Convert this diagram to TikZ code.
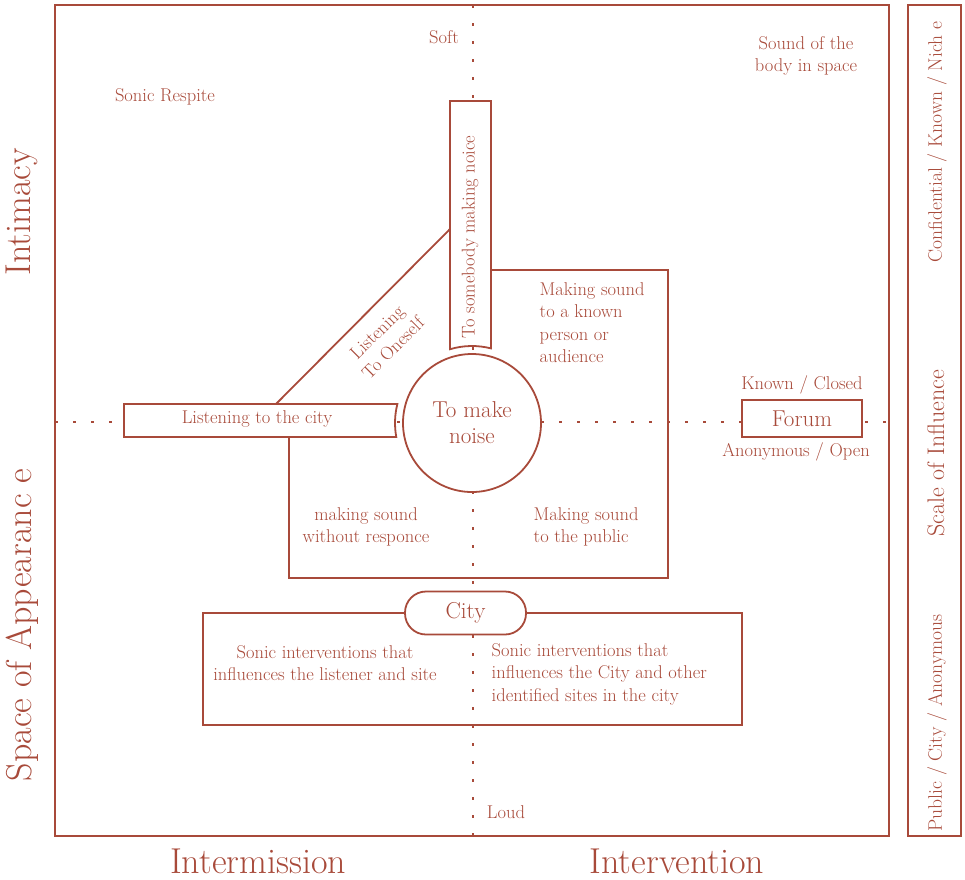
\documentclass[tikz,border=0pt]{standalone}
\usepackage{fontspec}
\usetikzlibrary{calc,positioning}
\definecolor{rust}{RGB}{168,74,58}

\begin{document}
\begin{tikzpicture}[
  x=1pt,y=1pt,
  every node/.style={inner sep=1.5pt,text=rust},
  frame/.style={draw=rust,line width=2.2pt},
  box/.style={draw=rust,line width=1.8pt,fill=white},
  edge/.style={draw=rust,line width=1.8pt},
  axis/.style={draw=rust,line width=1.8pt,dash pattern=on 3pt off 15pt},
  lab/.style={font=\fontsize{18.5}{22.4}\selectfont,align=center},
  big/.style={font=\fontsize{23}{26}\selectfont,align=center},
  ttl/.style={font=\fontsize{36}{36}\selectfont,inner sep=0pt},
  side/.style={font=\fontsize{19.5}{19.5}\selectfont,rotate=90},
]
  \useasboundingbox (0,0) rectangle (965,-879);
  % ============ frames ============
  \draw[frame] (55,-5) rectangle (889,-836);
  \draw[frame] (908,-5) rectangle (961,-836);
  % ============ axes ============
  \coordinate (soft) at (473,-5);
  \coordinate (loud) at (473,-836);
  \coordinate (west) at (55,-422);
  \coordinate (east) at (889,-422);
  \draw[axis] (soft) -- (loud);
  \draw[axis] (west) -- (east);
  % ============ making sound quadrants ============
  \draw[edge] (491,-270) -- (668,-270) -- (668,-578) -- (289,-578) -- (289,-437);
  \node[lab,align=left,anchor=north west] (known) at (538,-281) {Making sound\\to a known\\person or\\audience};
  \node[lab] (noresp) at (366,-527) {making sound\\without responce};
  \node[lab,align=left,anchor=west] (public) at (532,-527) {Making sound\\to the public};
  % ============ listening ============
  \draw[edge] (276,-404) -- (450,-229);
  \node[lab,rotate=45] (oneself) at (385,-340) {Listening\\To Oneself};
  % ============ centre ============
  \node[circle,box,minimum size=138pt,inner sep=0pt,big] (noise) at (472,-423) {To make\\noise};
  \draw[box] (450,-101) -- ($(noise.center)+(106.6:77)$) arc[start angle=106.6,end angle=75.7,radius=77] -- (491,-101) -- cycle;
  \node[lab,rotate=90] (somebody) at (470,-237) {To somebody making noice};
  \draw[box] (124,-404) -- ($(noise.center)+(165.7:77)$) arc[start angle=165.7,end angle=190.5,radius=77] -- (124,-437) -- cycle;
  \node[lab] (cityear) at (257,-419) {Listening to the city};
  % ============ city ============
  \node[box,rounded corners=21pt,minimum width=121pt,minimum height=43pt,big] (city) at (465.5,-613) {City};
  \draw[edge] (city.west) -- (203,-613) -- (203,-725) -- (742,-725) -- (742,-613) -- (city.east);
  \node[lab] (site) at (325,-663) {Sonic interventions that\\influences the listener and site};
  \node[lab,align=left,anchor=west] (others) at (490,-674) {Sonic interventions that\\influences the City and other\\identified sites in the city};
  % ============ forum ============
  \node[box,minimum width=120pt,minimum height=37pt,big] (forum) at (802,-418.5) {Forum};
  \node[lab,above=3pt of forum] (closed) {Known / Closed};
  \node[lab,below=3pt of forum,xshift=-6pt] (open) {Anonymous / Open};
  % ============ corner labels ============
  \node[lab] (softlab) at (444,-37) {Soft};
  \node[lab] (loudlab) at (506,-812) {Loud};
  \node[lab] (body) at (806,-56) {Sound of the\\body in space};
  \node[lab] (respite) at (165,-97) {Sonic Respite};
  % ============ axis titles ============
  \node[ttl,rotate=90] (intimacy) at (22,-212) {Intimacy};
  \node[ttl,rotate=90] (appear) at (22,-625) {Space of Appearanc e};
  \node[ttl] (intermission) at (258,-861) {Intermission};
  \node[ttl] (intervention) at (677,-861) {Intervention};
  % ============ scale of influence ============
  \node[side] (niche) at (937,-142) {Confidential / Known / Nich e};
  \node[side,font=\fontsize{24}{24}\selectfont] (scale) at (936,-453) {Scale of Influence};
  \node[side] (anon) at (937,-723) {Public / City / Anonymous};
\end{tikzpicture}
\end{document}
